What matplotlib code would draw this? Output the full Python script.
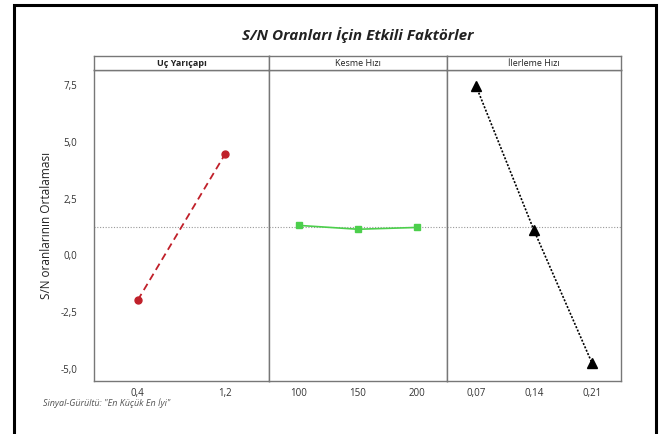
import matplotlib.pyplot as plt
from matplotlib.patches import Rectangle

plt.rcParams['font.family'] = ['Open Sans', 'DejaVu Sans']

# faktorler ve seviyeleri
faktorler = ["Uç Yarıçapı", "Kesme Hızı", "İlerleme Hızı"]
seviyeler_uc = ["0,4", "1,2"]
seviyeler_kesme = ["100", "150", "200"]
seviyeler_ilerleme = ["0,07", "0,14", "0,21"]

# S/N ortalamalari
sn_uc = [-1.97, 4.47]
sn_kesme = [1.32, 1.15, 1.23]
sn_ilerleme = [7.46, 1.10, -4.74]

genel_ort = 1.23
y_ticks = [-5.0, -2.5, 0.0, 2.5, 5.0, 7.5]

fig = plt.figure(figsize=(6.68, 4.34), dpi=100)
W, H = 668, 434

# dis cerceve
fig.patches.append(Rectangle((14 / W, -0.01), (656 - 14) / W, (434 - 5) / H + 0.01,
                             transform=fig.transFigure, fill=False,
                             edgecolor='black', linewidth=2.2))

panel_x = [94, 269, 447, 621]
ust, alt = 70, 381
seriler = [
    (seviyeler_uc, sn_uc, '#c0202a', 'o', (0, (4, 2.5)), 1.3, 5),
    (seviyeler_kesme, sn_kesme, '#4ccf4c', 's', '-', 1.2, 5),
    (seviyeler_ilerleme, sn_ilerleme, 'black', '^', (0, (1.2, 1)), 1.2, 7),
]

for i, (lab, vals, renk, mk, ls, lw, ms) in enumerate(seriler):
    x0, x1 = panel_x[i], panel_x[i + 1]
    ax = fig.add_axes([x0 / W, 1 - alt / H, (x1 - x0) / W, (alt - ust) / H])
    xs = list(range(len(lab)))
    ax.axhline(genel_ort, color='#999999', linestyle=(0, (1, 1.5)), linewidth=0.8, zorder=1)
    ax.plot(xs, vals, color=renk, linestyle=ls, linewidth=lw, marker=mk,
            markersize=ms, zorder=3)
    ax.set_xlim(-0.5, len(lab) - 0.5)
    ax.set_ylim(-5.53, 8.16)
    ax.set_xticks(xs)
    ax.set_xticklabels(lab, fontsize=7, color='#333333')
    ax.tick_params(axis='x', length=0, pad=5)
    for sp in ax.spines.values():
        sp.set_color('#777777')
        sp.set_linewidth(1.0)
    if i == 0:
        ax.set_yticks(y_ticks)
        ax.set_yticklabels([f"{t:.1f}".replace('.', ',') for t in y_ticks],
                           fontsize=7, color='#333333')
        ax.tick_params(axis='y', length=0, pad=12)
    else:
        ax.set_yticks([])
    # baslik seridi
    sax = fig.add_axes([x0 / W, 1 - ust / H, (x1 - x0) / W, 14 / H])
    sax.set_xticks([])
    sax.set_yticks([])
    for sp in sax.spines.values():
        sp.set_color('#777777')
        sp.set_linewidth(1.0)
    sax.text(0.5, 0.5, faktorler[i], ha='center', va='center', fontsize=6.5,
             fontweight='bold' if i == 0 else 'normal', color='#222222',
             transform=sax.transAxes)

fig.text(358 / W, 1 - 35 / H, "S/N Oranları İçin Etkili Faktörler", ha='center',
         va='center', fontsize=11, fontweight='bold', fontstyle='italic', color='#222222')
fig.text(47 / W, 1 - 225 / H, "S/N oranlarının Ortalaması", ha='center', va='center',
         rotation=90, fontsize=8.5, color='#222222')
fig.text(43 / W, 1 - 403 / H, 'Sinyal-Gürültü: "En Küçük En İyi"', ha='left',
         va='center', fontsize=6.5, fontstyle='italic', color='#555555')

fig.savefig('out.png', dpi=100)
